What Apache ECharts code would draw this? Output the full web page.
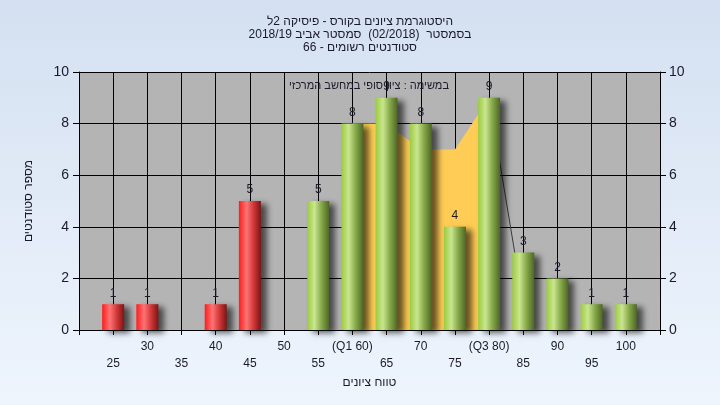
<!DOCTYPE html>
<html>
<head>
<meta charset="utf-8">
<script src="https://cdn.jsdelivr.net/npm/echarts@6/dist/echarts.min.js"></script>
<style>
html,body{margin:0;padding:0;}
#main{width:720px;height:405px;}
</style>
</head>
<body>
<div id="main" dir="rtl"></div>
<script>
// ---- data ----
var categories = ['20','25','30','35','40','45','50','55','60','65','70','75','80','85','90','95','100','105'];
var tickLabels = ['', '25','30','35','40','45','50','55','(Q1 60)','65','70','75','(Q3 80)','85','90','95','100',''];
var counts = [null, 1, 1, 0, 1, 5, 0, 5, 8, 9, 8, 4, 9, 3, 2, 1, 1, null];
var quartileArea = [null, null, null, null, null, null, null, null, 8, 8, 7, 7, 9, null, null, null, null, null];
var edgeLine = [null, null, null, null, null, null, null, null, null, null, null, null, 9, 1, null, null, null, null];
var passFrom = 55;
var titleLines = ['היסטוגרמת ציונים בקורס - פיסיקה 2ל', 'בסמסטר  (02/2018)  סמסטר אביב 2018/19', 'סטודנטים רשומים - 66'];
var noteText = 'במשימה : ציון סופי במחשב המרכזי';
var xName = 'טווח ציונים';
var yName = 'מספר סטודנטים';

var FONT = '"Liberation Sans", "DejaVu Sans", Arial, sans-serif';

function grad(stops) {
  return new echarts.graphic.LinearGradient(0, 0, 1, 0, stops);
}
var redGrad = [
  {offset: 0, color: '#ff1c1c'},
  {offset: 0.35, color: '#ff7474'},
  {offset: 0.65, color: '#d43a3a'},
  {offset: 1, color: '#7c1414'}
];
var greenGrad = [
  {offset: 0, color: '#9ccb3e'},
  {offset: 0.33, color: '#c9e690'},
  {offset: 0.65, color: '#86a848'},
  {offset: 1, color: '#4c6626'}
];

var barData = counts.map(function (v, i) {
  if (v === null) return null;
  var pass = Number(categories[i]) >= passFrom;
  return {
    value: v,
    itemStyle: {
      color: grad(pass ? greenGrad : redGrad),
      shadowBlur: 6,
      shadowColor: 'rgba(0,0,0,0.6)',
      shadowOffsetX: 6,
      shadowOffsetY: 3
    }
  };
});

var chart = echarts.init(document.getElementById('main'), null, {renderer: 'canvas'});
chart.setOption({
  animation: false,
  backgroundColor: new echarts.graphic.LinearGradient(0, 0, 0, 1, [
    {offset: 0, color: '#d4e0f1'},
    {offset: 1, color: '#eef5fd'}
  ]),
  textStyle: {fontFamily: FONT},
  title: {
    text: titleLines.join('\n'),
    left: 'center',
    top: 10,
    textStyle: {fontSize: 12, fontWeight: 'normal', color: '#1a1a2a', lineHeight: 13, fontFamily: FONT}
  },
  graphic: [{
    type: 'text',
    x: 369,
    y: 86,
    z: 100,
    style: {text: noteText, fill: '#1a1a2a', font: '11px ' + FONT, textAlign: 'center', textVerticalAlign: 'middle'}
  }],
  grid: {left: 79, right: 60, top: 72, bottom: 75, show: true, backgroundColor: '#b4b4b4', borderWidth: 0},
  xAxis: {
    type: 'category',
    data: categories,
    boundaryGap: false,
    name: xName,
    nameLocation: 'middle',
    nameGap: 44,
    nameTextStyle: {fontSize: 12, color: '#1a1a2a'},
    axisLine: {lineStyle: {color: '#000', width: 1}},
    axisTick: {show: true, interval: 0, length: 5, lineStyle: {color: '#000'}},
    axisLabel: {
      interval: 0,
      margin: 8,
      fontSize: 12,
      lineHeight: 17,
      color: '#1a1a2a',
      formatter: function (v, i) {
        var t = tickLabels[i];
        if (!t) return '';
        return (i % 2 === 1) ? ('\n' + t) : t;
      }
    },
    splitLine: {show: true, interval: 0, lineStyle: {color: '#000', width: 1}}
  },
  yAxis: [{
    type: 'value',
    min: 0, max: 10, interval: 2,
    position: 'left',
    name: yName,
    nameLocation: 'middle',
    nameGap: 44,
    nameRotate: 90,
    nameTextStyle: {fontSize: 12, color: '#1a1a2a'},
    axisLine: {show: true, lineStyle: {color: '#000', width: 1}},
    axisTick: {show: true, length: 6, lineStyle: {color: '#000'}},
    axisLabel: {fontSize: 14, color: '#1a1a2a', margin: 10},
    splitLine: {show: true, lineStyle: {color: '#000', width: 1}}
  }, {
    type: 'value',
    min: 0, max: 10, interval: 2,
    position: 'right',
    axisLine: {show: true, lineStyle: {color: '#000', width: 1}},
    axisTick: {show: true, length: 6, lineStyle: {color: '#000'}},
    axisLabel: {fontSize: 14, color: '#1a1a2a', margin: 9},
    splitLine: {show: false}
  }],
  series: [{
    type: 'line',
    data: quartileArea,
    symbol: 'none',
    lineStyle: {width: 0},
    areaStyle: {color: '#ffcc55', opacity: 1},
    itemStyle: {color: '#ffcc55'},
    z: 1
  }, {
    type: 'line',
    data: edgeLine,
    symbol: 'none',
    lineStyle: {width: 1, color: '#3a3a3a'},
    z: 1
  }, {
    type: 'bar',
    data: barData,
    barWidth: 22,
    z: 3,
    label: {
      show: true,
      position: 'top',
      distance: 5,
      fontSize: 12,
      color: '#1a1a2a',
      formatter: function (p) { return p.value ? String(p.value) : ''; }
    }
  }]
});
</script>
</body>
</html>
